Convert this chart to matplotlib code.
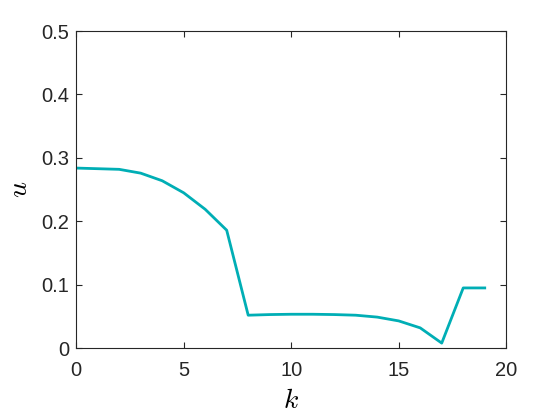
import numpy as np
import matplotlib.pyplot as plt

plt.rcParams['font.family'] = ['Liberation Sans', 'DejaVu Sans']
plt.rcParams['mathtext.fontset'] = 'cm'

k = np.arange(20)
u = [0.284, 0.283, 0.282, 0.276, 0.264, 0.245, 0.219, 0.186, 0.052, 0.053,
     0.0535, 0.0535, 0.053, 0.052, 0.049, 0.043, 0.032, 0.008, 0.095, 0.095]

fig = plt.figure(figsize=(5.6, 4.2), dpi=100)
ax = fig.add_axes([0.136, 0.171, 0.768, 0.755])
ax.plot(k, u, "-", color="#00AEB5", lw=2)

ax.set_xlim(0, 20)
ax.set_ylim(0, 0.5)
ax.set_xticks([0, 5, 10, 15, 20])
ax.set_yticks(np.arange(0, 0.51, 0.1))
ax.set_yticklabels(["0", "0.1", "0.2", "0.3", "0.4", "0.5"])
ax.tick_params(direction="in", top=True, right=True, labelsize=14.5,
               colors="#262626", length=4)
ax.tick_params(axis="x", pad=9)
ax.tick_params(axis="y", pad=5)
for s in ax.spines.values():
    s.set_color("#262626")

ax.set_xlabel("$k$", fontsize=20, labelpad=6)
ax.set_ylabel("$u$", fontsize=20, labelpad=6)

fig.savefig("out.png")
